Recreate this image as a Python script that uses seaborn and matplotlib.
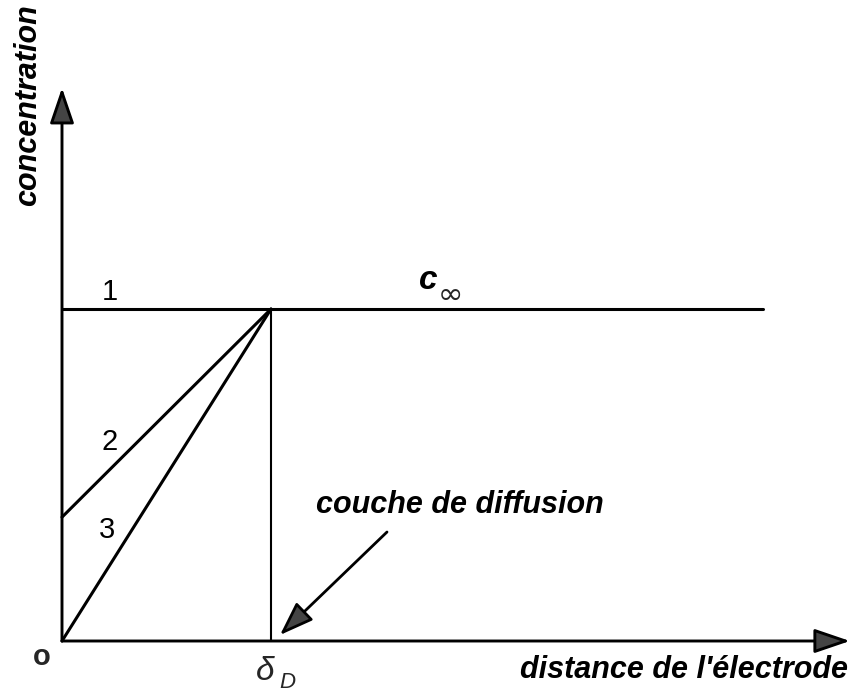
import matplotlib
matplotlib.use("Agg")
import matplotlib.pyplot as plt
import seaborn as sns
import pandas as pd

# ---- data (units: distance in delta_D, concentration in c_inf) ----
delta_D = 1.0
c_inf = 1.0
profile_labels = ["1", "2", "3"]
profile_x = [[0.0, 3.354], [0.0, 1.0], [0.0, 1.0]]
profile_y = [[1.0, 1.0], [0.373, 1.0], [0.0, 1.0]]
x_axis_end = 3.77
y_axis_end = 1.666

rows = []
for lab, xs, ys in zip(profile_labels, profile_x, profile_y):
    for xv, yv in zip(xs, ys):
        rows.append({"profile": lab, "distance": xv, "concentration": yv})
df = pd.DataFrame(rows)

sns.set_theme(style="white")
plt.rcParams["font.family"] = ["Liberation Sans", "DejaVu Sans"]

fig = plt.figure(figsize=(8.51, 6.92), dpi=100)
ax = fig.add_axes([0, 0, 1, 1])
ax.set_xlim(-62 / 209, 789 / 209)
ax.set_ylim(-51 / 332, 641 / 332)
ax.axis("off")

sns.lineplot(data=df, x="distance", y="concentration", hue="profile",
             palette=["black"] * 3, linewidth=2.2, legend=False, ax=ax,
             estimator=None, sort=False)

# vertical line at delta_D
ax.plot([delta_D, delta_D], [0, c_inf], color="black", lw=1.5)

arrow_fc = "#444444"
# axes with arrows
ax.annotate("", xy=(x_axis_end, 0), xytext=(0, 0),
            arrowprops=dict(arrowstyle="-|>,head_length=2.2,head_width=0.75",
                            mutation_scale=10, lw=2.1, color="black",
                            fc=arrow_fc, shrinkA=0, shrinkB=0))
ax.annotate("", xy=(0, y_axis_end), xytext=(0, 0),
            arrowprops=dict(arrowstyle="-|>,head_length=2.2,head_width=0.75",
                            mutation_scale=10, lw=2.1, color="black",
                            fc=arrow_fc, shrinkA=0, shrinkB=0))
# pointer to diffusion layer
ax.annotate("", xy=((280 - 62) / 209, (641 - 635) / 332),
            xytext=((387 - 62) / 209, (641 - 532) / 332),
            arrowprops=dict(arrowstyle="-|>,head_length=2.1,head_width=0.75",
                            mutation_scale=10, lw=2.0, color="black",
                            fc=arrow_fc, shrinkA=0, shrinkB=0))

num_kw = dict(fontsize=21, ha="center", va="center", color="black")
ax.text(0.23, 1.051, profile_labels[0], **num_kw)
ax.text(0.23, 0.599, profile_labels[1], **num_kw)
ax.text(0.215, 0.334, profile_labels[2], **num_kw)
ax.text(-0.096, -0.048, "o", fontsize=21, fontweight="bold", ha="center", va="center")

bi = dict(fontweight="bold", fontstyle="italic", color="black")
ax.text(1.751, 1.087, "c", fontsize=24, ha="center", va="center", **bi)
ax.text(1.86, 1.04, "∞", fontsize=22, ha="center", va="center", family=["DejaVu Sans"])

ax.text(0.971, -0.093, "δ", fontsize=24, fontstyle="italic", ha="center", va="center")
ax.text(1.077, -0.125, "D", fontsize=16, fontstyle="italic", ha="center", va="center")

ax.text(1.215, 0.41, "couche de diffusion", fontsize=22, ha="left", va="center", **bi)
ax.text(3.76, -0.087, "distance de l'électrode", fontsize=22, ha="right", va="center", **bi)
ax.text(-0.16, 1.614, "concentration", fontsize=22, rotation=90, ha="center", va="center", **bi)

fig.savefig("out.png", dpi=100, facecolor="white")
